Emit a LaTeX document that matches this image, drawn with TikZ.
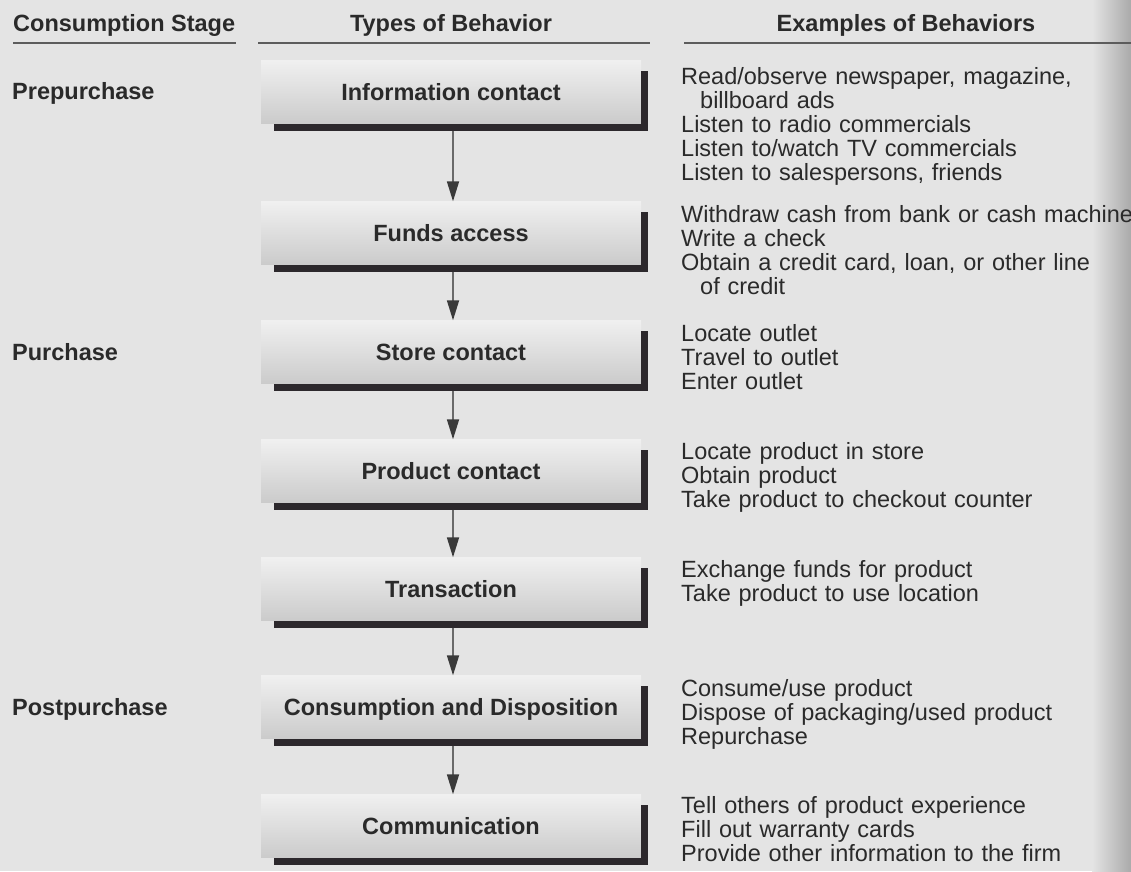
\documentclass[tikz,border=0pt]{standalone}
\usepackage{fontspec}
\setmainfont{Liberation Sans}
\usetikzlibrary{calc,arrows.meta}
\definecolor{bg}{HTML}{E4E4E4}
\definecolor{ink}{HTML}{2A2A2A}
\definecolor{shad}{HTML}{2C282C}
\definecolor{rule}{HTML}{5C5C5C}
\definecolor{boxtop}{HTML}{F0F0F0}
\definecolor{boxmid}{HTML}{E9E9E9}
\definecolor{boxbot}{HTML}{CBCBCB}
\definecolor{arrgray}{HTML}{6A6A6A}
\definecolor{arrhead}{HTML}{3A3A3A}
\definecolor{edge}{HTML}{AAAAAA}
\begin{document}
\begin{tikzpicture}[x=1pt,y=-1pt,
  hdr/.style={font=\fontsize{23.5}{24}\selectfont\bfseries, text=ink, inner sep=0pt},
  stage/.style={font=\fontsize{23.5}{24}\selectfont\bfseries, text=ink, inner sep=0pt, anchor=base west},
  behav/.style={minimum width=380pt, minimum height=63pt, inner sep=0pt,
    top color=boxtop, middle color=boxmid, bottom color=boxbot,
    font=\fontsize{23.5}{24}\selectfont\bfseries, text=ink, text height=17pt, text depth=1pt},
  lshadow/.style={draw=shad, line width=7pt},
  flow/.style={draw=arrgray, line width=1.8pt, -{Triangle[length=20pt,width=12pt,color=arrhead]}},
  ex/.style={font=\fontsize{23.5}{24}\selectfont, text=ink, inner sep=0pt, anchor=base west, text width=470pt, align=left},
  rulel/.style={draw=rule, line width=2pt}]
\useasboundingbox (0,0) rectangle (1131,871);
\fill[bg] (0,0) rectangle (1131,871);
\shade[left color=bg, right color=edge] (1092,0) rectangle (1131,871);

% headers
\node[hdr, anchor=base west] (h1) at (13,31) {Consumption Stage};
\node[hdr, anchor=base] (h2) at (451,31) {Types of Behavior};
\node[hdr, anchor=base] (h3) at (906,31) {Examples of Behaviors};
\draw[rulel] (13,43) -- (236,43);
\draw[rulel] (258,43) -- (650,43);
\draw[rulel] (684,43) -- (1131,43);

% stages
\node[stage] (s1) at (12,99) {Prepurchase};
\node[stage] (s2) at (12,360) {Purchase};
\node[stage] (s3) at (12,715) {Postpurchase};

% behavior boxes
\node[behav] (b1) at (451,92) {Information contact};
\node[behav] (b2) at (451,233) {Funds access};
\node[behav] (b3) at (451,352) {Store contact};
\node[behav] (b4) at (451,471) {Product contact};
\node[behav] (b5) at (451,589) {Transaction};
\node[behav] (b6) at (451,707) {Consumption and Disposition};
\node[behav] (b7) at (451,826) {Communication};

\foreach \b in {b1,b2,b3,b4,b5,b6,b7}{
  \draw[lshadow] ($(\b.north east)+(3.5,11)$) |- ($(\b.south west)+(13,3.5)$);
}

\draw[flow] ($(b1.south)+(2,7)$) -- ($(b2.north)+(2,0)$);
\draw[flow] ($(b2.south)+(2,7)$) -- ($(b3.north)+(2,0)$);
\draw[flow] ($(b3.south)+(2,7)$) -- ($(b4.north)+(2,0)$);
\draw[flow] ($(b4.south)+(2,7)$) -- ($(b5.north)+(2,0)$);
\draw[flow] ($(b5.south)+(2,7)$) -- ($(b6.north)+(2,0)$);
\draw[flow] ($(b6.south)+(2,7)$) -- ($(b7.north)+(2,0)$);

% examples
\node[ex] (e1) at (681,84) {Read/observe newspaper, magazine,\\\hspace*{19pt}billboard ads\\Listen to radio commercials\\Listen to/watch TV commercials\\Listen to salespersons, friends};
\node[ex] (e2) at (681,222) {Withdraw cash from bank or cash machine\\Write a check\\Obtain a credit card, loan, or other line\\\hspace*{19pt}of credit};
\node[ex] (e3) at (681,341) {Locate outlet\\Travel to outlet\\Enter outlet};
\node[ex] (e4) at (681,459) {Locate product in store\\Obtain product\\Take product to checkout counter};
\node[ex] (e5) at (681,577) {Exchange funds for product\\Take product to use location};
\node[ex] (e6) at (681,696) {Consume/use product\\Dispose of packaging/used product\\Repurchase};
\node[ex] (e7) at (681,813) {Tell others of product experience\\Fill out warranty cards\\Provide other information to the firm};
\end{tikzpicture}
\end{document}
